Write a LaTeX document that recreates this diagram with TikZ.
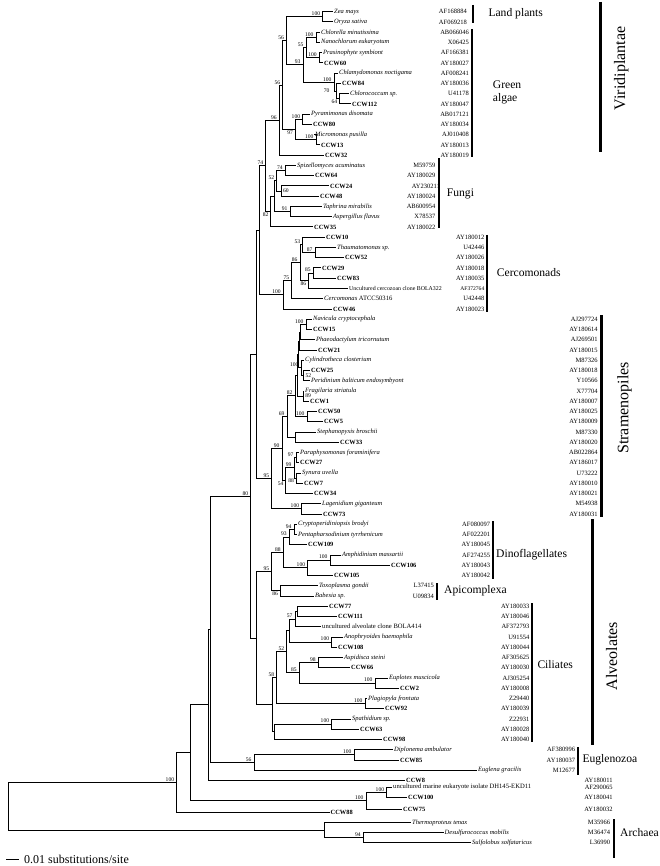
\documentclass[tikz,border=0pt]{standalone}
\usepackage{fontspec}
\setmainfont{Liberation Serif}

\tikzset{
  br/.style={line width=0.9pt},
  sp/.style={anchor=west, inner sep=1pt, font=\fontsize{6.5}{7}\selectfont\itshape},
  cw/.style={anchor=west, inner sep=1pt, font=\fontsize{6.4}{7}\selectfont\bfseries},
  un/.style={anchor=west, inner sep=1pt, font=\fontsize{6.6}{7}\selectfont},
  acc/.style={anchor=east, inner sep=0.5pt, font=\fontsize{6.5}{7}\selectfont},
  bs/.style={anchor=south east, inner sep=0.4pt, xshift=-2pt, yshift=0.5pt, font=\fontsize{5.6}{6}\selectfont},
  bsb/.style={anchor=north east, inner sep=0.4pt, xshift=-1.5pt, yshift=-0.5pt, font=\fontsize{5.6}{6}\selectfont},
  bsm/.style={anchor=east, inner sep=0.4pt, xshift=-6pt, font=\fontsize{5.6}{6}\selectfont},
  bsr/.style={anchor=west, inner sep=0.4pt, xshift=1.5pt, font=\fontsize{5.6}{6}\selectfont},
  grp/.style={anchor=west, inner sep=0pt, align=left, font=\fontsize{11.6}{13.3}\selectfont},
  big/.style={rotate=90, anchor=base, inner sep=0pt, font=\fontsize{16}{18}\selectfont},
  cbar/.style={line width=2.2pt},
  kbar/.style={line width=3.4pt},
}

\begin{document}
\begin{tikzpicture}[x=1pt,y=-1pt]
\useasboundingbox (0,0) rectangle (660,866);

% internal nodes
\coordinate (nzo) at (322.7,16.83);
\coordinate (nchn) at (316,37.33);
\coordinate (nprc) at (319.3,57.83);
\coordinate (n55) at (306,47.58);
\coordinate (nc64) at (339.3,98.83);
\coordinate (nc70) at (336,91.14);
\coordinate (nchl) at (334,82.17);
\coordinate (n93) at (303,64.87);
\coordinate (n56a) at (286.5,40.85);
\coordinate (npyr) at (302.7,119.33);
\coordinate (nmic) at (316,139.83);
\coordinate (n97) at (295,129.58);
\coordinate (n56b) at (282.7,85.21);
\coordinate (n96) at (279.3,120.2);
\coordinate (nspz) at (285.3,170.58);
\coordinate (n60) at (281,191.08);
\coordinate (n52f) at (276.7,180.83);
\coordinate (n91) at (290,211.58);
\coordinate (nf) at (274.3,196.2);
\coordinate (n82f) at (270.5,211.58);
\coordinate (n74) at (265.7,165.89);
\coordinate (n87) at (315,252.58);
\coordinate (n53) at (302.7,244.89);
\coordinate (n85c) at (313.3,273.08);
\coordinate (n86b) at (308.3,280.76);
\coordinate (n86a) at (300,262.83);
\coordinate (n75) at (291.7,280.77);
\coordinate (ncer) at (283.3,294.86);
\coordinate (nK) at (259.5,230.38);
\coordinate (nnav) at (306,324.33);
\coordinate (ns1) at (300.5,332.01);
\coordinate (ns2) at (299,340.98);
\coordinate (n52s) at (303.5,375.58);
\coordinate (ncyl) at (301,367.89);
\coordinate (ns3) at (298,354.44);
\coordinate (n89) at (303.3,396.08);
\coordinate (ns4) at (297,375.26);
\coordinate (n100b) at (307,416.58);
\coordinate (n82s) at (295,395.92);
\coordinate (n98) at (295,437.08);
\coordinate (n69) at (287,416.5);
\coordinate (n97s) at (296,457.58);
\coordinate (n88s) at (296,478.08);
\coordinate (n99) at (294,467.83);
\coordinate (n54) at (285.5,480.64);
\coordinate (n90) at (282,448.57);
\coordinate (nlag) at (301.7,508.83);
\coordinate (n95s) at (271.7,478.7);
\coordinate (nA) at (256.7,354.54);
\coordinate (n94) at (294,529.33);
\coordinate (n93d) at (289.3,537.01);
\coordinate (na100) at (330,560.08);
\coordinate (na100b) at (307.7,567.76);
\coordinate (n88d) at (283.3,552.39);
\coordinate (n86) at (280,590.83);
\coordinate (n95d) at (271.7,571.61);
\coordinate (nc77) at (297.5,611.33);
\coordinate (n57) at (295,619.01);
\coordinate (nano) at (331.7,642.08);
\coordinate (nx1) at (289,630.55);
\coordinate (n98c) at (318.3,662.58);
\coordinate (neup) at (375,683.08);
\coordinate (n85) at (299.3,672.83);
\coordinate (n52c) at (286.7,651.69);
\coordinate (npla) at (365,703.58);
\coordinate (n58) at (276.7,677.63);
\coordinate (nspa) at (331.7,724.08);
\coordinate (nsp2) at (274.3,731.76);
\coordinate (ncil) at (272,704.7);
\coordinate (nB) at (256.7,638.15);
\coordinate (n80) at (250.7,496.35);
\coordinate (ndip) at (354,754.83);
\coordinate (n56e) at (254,762.51);
\coordinate (nI) at (210.7,629.43);
\coordinate (nG) at (208.5,704.7);
\coordinate (n100m) at (386.7,792.5);
\coordinate (nH) at (366,800.75);
\coordinate (nF) at (190.4,752.7);
\coordinate (nE) at (176.7,782.7);
\coordinate (n94a) at (363.3,837.7);
\coordinate (narc) at (324,830.2);
\coordinate (nroot) at (8,806.45);

% leaves
\node[sp] (zea) at (333,11.7) {Zea mays};
\node[sp] (ory) at (333,21.95) {Oryza sativa};
\node[sp] (chl) at (320,32.2) {Chlorella minutissima};
\node[sp] (nan) at (320,42.45) {Nanochlorum eukaryotum};
\node[sp] (pra) at (322,52.7) {Prasinophyte symbiont};
\node[cw] (c60) at (323,62.95) {CCW60};
\node[sp] (chy) at (338,73.2) {Chlamydomonas noctigama};
\node[cw] (c84) at (341,83.45) {CCW84};
\node[sp] (clc) at (349,93.7) {Chlorococcum sp.};
\node[cw] (c112) at (351,103.95) {CCW112};
\node[sp] (pyr) at (310,114.2) {Pyramimonas disomata};
\node[cw] (c80) at (312,124.45) {CCW80};
\node[sp] (mic) at (314,134.7) {Micromonas pusilla};
\node[cw] (c13) at (320,144.95) {CCW13};
\node[cw] (c32) at (324,155.2) {CCW32};
\node[sp] (spi) at (296,165.45) {Spizellomyces acuminatus};
\node[cw] (c64) at (314,175.7) {CCW64};
\node[cw] (c24) at (329,185.95) {CCW24};
\node[cw] (c48) at (319,196.2) {CCW48};
\node[sp] (tap) at (322,206.45) {Taphrina mirabilis};
\node[sp] (asp) at (332,216.7) {Aspergillus flavus};
\node[cw] (c35) at (313,226.95) {CCW35};
\node[cw] (c10) at (325,237.2) {CCW10};
\node[sp] (tha) at (336,247.45) {Thaumatomonas sp.};
\node[cw] (c52) at (344,257.7) {CCW52};
\node[cw] (c29) at (321,267.95) {CCW29};
\node[cw] (c83) at (336,278.2) {CCW83};
\node[un, font=\fontsize{5.9}{7}\selectfont] (bola322) at (348,288.45) {Uncultured cercozoan clone BOLA322};
\node[un] (cer) at (323,298.7) {\textit{Cercomonas} ATCC50316};
\node[cw] (c46) at (332,308.95) {CCW46};
\node[sp] (nav) at (312,319.2) {Navicula cryptocephala};
\node[cw] (c15) at (312,329.45) {CCW15};
\node[sp] (pha) at (315,339.7) {Phaeodactylum tricornutum};
\node[cw] (c21) at (317,349.95) {CCW21};
\node[sp] (cyl) at (304,360.2) {Cylindrotheca closterium};
\node[cw] (c25) at (310,370.45) {CCW25};
\node[sp] (per) at (310,380.7) {Peridinium balticum endosymbyont};
\node[sp] (fra) at (304,390.95) {Fragilaria striatula};
\node[cw] (c1) at (309,401.2) {CCW1};
\node[cw] (c50) at (317,411.45) {CCW50};
\node[cw] (c5) at (323,421.7) {CCW5};
\node[sp] (ste) at (316,431.95) {Stephanopyxis broschii};
\node[cw] (c33) at (339,442.2) {CCW33};
\node[sp] (par) at (299,452.45) {Paraphysomonas foraminifera};
\node[cw] (c27) at (299,462.7) {CCW27};
\node[sp] (syn) at (301,472.95) {Synura uvella};
\node[cw] (c7) at (303,483.2) {CCW7};
\node[cw] (c34) at (313,493.45) {CCW34};
\node[sp] (lag) at (321,503.7) {Lagenidium giganteum};
\node[cw] (c73) at (322,513.95) {CCW73};
\node[sp] (cry) at (297,524.2) {Cryptoperidiniopsis brodyi};
\node[sp] (pen) at (297,534.45) {Pentapharsodinium tyrrhenicum};
\node[cw] (c109) at (307,544.7) {CCW109};
\node[sp] (amp) at (341,554.95) {Amphidinium massartii};
\node[cw] (c106) at (390,565.2) {CCW106};
\node[cw] (c105) at (333,575.45) {CCW105};
\node[sp] (tox) at (318,585.7) {Toxoplasma gondii};
\node[sp] (bab) at (314,595.95) {Babesia sp.};
\node[cw] (c77) at (328,606.2) {CCW77};
\node[cw] (c111) at (337,616.45) {CCW111};
\node[un] (bola414) at (321,626.7) {uncultured alveolate clone BOLA414};
\node[sp] (ano) at (343,636.95) {Anophryoides haemophila};
\node[cw] (c108) at (337,647.2) {CCW108};
\node[sp] (asi) at (343,657.45) {Aspidisca steini};
\node[cw] (c66) at (350,667.7) {CCW66};
\node[sp] (eup) at (388,677.95) {Euplotes muscicola};
\node[cw] (c2) at (399,688.2) {CCW2};
\node[sp] (pla) at (367,698.45) {Plagiopyla frontata};
\node[cw] (c92) at (384,708.7) {CCW92};
\node[sp] (spa) at (351,718.95) {Spathidium sp.};
\node[cw] (c63) at (359,729.2) {CCW63};
\node[cw] (c98) at (382,739.45) {CCW98};
\node[sp] (dip) at (393,749.7) {Diplonema ambulator};
\node[cw] (c85) at (399,759.95) {CCW85};
\node[sp] (eug) at (477,770.2) {Euglena gracilis};
\node[cw] (c8) at (405,780) {CCW8};
\node[un] (dh145) at (392,787.3) {uncultured marine eukaryote isolate DH145-EKD11};
\node[cw] (c100) at (407,797.7) {CCW100};
\node[cw] (c75) at (402,809) {CCW75};
\node[cw] (c88) at (329.5,812.7) {CCW88};
\node[sp] (the) at (411,822.7) {Thermoproteus tenax};
\node[sp] (des) at (443.5,832.7) {Desulfurococcus mobilis};
\node[sp] (sul) at (471,842.7) {Sulfolobus solfataricus};

% branches
\draw[br] (nzo) |- (zea.west) (nzo) |- (ory.west);
\draw[br] (nchn) |- (chl.west) (nchn) |- (nan.west);
\draw[br] (nprc) |- (pra.west) (nprc) |- (c60.west);
\draw[br] (n55) |- (nchn) (n55) |- (nprc);
\draw[br] (nc64) |- (clc.west) (nc64) |- (c112.west);
\draw[br] (nc70) |- (c84.west) (nc70) |- (nc64);
\draw[br] (nchl) |- (chy.west) (nchl) |- (nc70);
\draw[br] (n93) |- (n55) (n93) |- (nchl);
\draw[br] (n56a) |- (nzo) (n56a) |- (n93);
\draw[br] (npyr) |- (pyr.west) (npyr) |- (c80.west);
\draw[br] (nmic) |- (mic.west) (nmic) |- (c13.west);
\draw[br] (n97) |- (npyr) (n97) |- (nmic);
\draw[br] (n56b) |- (n56a) (n56b) |- (n97);
\draw[br] (n96) |- (n56b) (n96) |- (c32.west);
\draw[br] (nspz) |- (spi.west) (nspz) |- (c64.west);
\draw[br] (n60) |- (c24.west) (n60) |- (c48.west);
\draw[br] (n52f) |- (nspz) (n52f) |- (n60);
\draw[br] (n91) |- (tap.west) (n91) |- (asp.west);
\draw[br] (nf) |- (n52f) (nf) |- (n91);
\draw[br] (n82f) |- (nf) (n82f) |- (c35.west);
\draw[br] (n74) |- (n96) (n74) |- (n82f);
\draw[br] (n87) |- (tha.west) (n87) |- (c52.west);
\draw[br] (n53) |- (c10.west) (n53) |- (n87);
\draw[br] (n85c) |- (c29.west) (n85c) |- (c83.west);
\draw[br] (n86b) |- (n85c) (n86b) |- (bola322.west);
\draw[br] (n86a) |- (n53) (n86a) |- (n86b);
\draw[br] (n75) |- (n86a) (n75) |- (cer.west);
\draw[br] (ncer) |- (n75) (ncer) |- (c46.west);
\draw[br] (nK) |- (n74) (nK) |- (ncer);
\draw[br] (nnav) |- (nav.west) (nnav) |- (c15.west);
\draw[br] (ns1) |- (nnav) (ns1) |- (pha.west);
\draw[br] (ns2) |- (ns1) (ns2) |- (c21.west);
\draw[br] (n52s) |- (c25.west) (n52s) |- (per.west);
\draw[br] (ncyl) |- (cyl.west) (ncyl) |- (n52s);
\draw[br] (ns3) |- (ns2) (ns3) |- (ncyl);
\draw[br] (n89) |- (fra.west) (n89) |- (c1.west);
\draw[br] (ns4) |- (ns3) (ns4) |- (n89);
\draw[br] (n100b) |- (c50.west) (n100b) |- (c5.west);
\draw[br] (n82s) |- (ns4) (n82s) |- (n100b);
\draw[br] (n98) |- (ste.west) (n98) |- (c33.west);
\draw[br] (n69) |- (n82s) (n69) |- (n98);
\draw[br] (n97s) |- (par.west) (n97s) |- (c27.west);
\draw[br] (n88s) |- (syn.west) (n88s) |- (c7.west);
\draw[br] (n99) |- (n97s) (n99) |- (n88s);
\draw[br] (n54) |- (n99) (n54) |- (c34.west);
\draw[br] (n90) |- (n69) (n90) |- (n54);
\draw[br] (nlag) |- (lag.west) (nlag) |- (c73.west);
\draw[br] (n95s) |- (n90) (n95s) |- (nlag);
\draw[br] (nA) |- (nK) (nA) |- (n95s);
\draw[br] (n94) |- (cry.west) (n94) |- (pen.west);
\draw[br] (n93d) |- (n94) (n93d) |- (c109.west);
\draw[br] (na100) |- (amp.west) (na100) |- (c106.west);
\draw[br] (na100b) |- (na100) (na100b) |- (c105.west);
\draw[br] (n88d) |- (n93d) (n88d) |- (na100b);
\draw[br] (n86) |- (tox.west) (n86) |- (bab.west);
\draw[br] (n95d) |- (n88d) (n95d) |- (n86);
\draw[br] (nc77) |- (c77.west) (nc77) |- (c111.west);
\draw[br] (n57) |- (nc77) (n57) |- (bola414.west);
\draw[br] (nano) |- (ano.west) (nano) |- (c108.west);
\draw[br] (nx1) |- (n57) (nx1) |- (nano);
\draw[br] (n98c) |- (asi.west) (n98c) |- (c66.west);
\draw[br] (neup) |- (eup.west) (neup) |- (c2.west);
\draw[br] (n85) |- (n98c) (n85) |- (neup);
\draw[br] (n52c) |- (nx1) (n52c) |- (n85);
\draw[br] (npla) |- (pla.west) (npla) |- (c92.west);
\draw[br] (n58) |- (n52c) (n58) |- (npla);
\draw[br] (nspa) |- (spa.west) (nspa) |- (c63.west);
\draw[br] (nsp2) |- (nspa) (nsp2) |- (c98.west);
\draw[br] (ncil) |- (n58) (ncil) |- (nsp2);
\draw[br] (nB) |- (n95d) (nB) |- (ncil);
\draw[br] (n80) |- (nA) (n80) |- (nB);
\draw[br] (ndip) |- (dip.west) (ndip) |- (c85.west);
\draw[br] (n56e) |- (ndip) (n56e) |- (eug.west);
\draw[br] (nI) |- (n80) (nI) |- (n56e);
\draw[br] (nG) |- (nI) (nG) |- (c8.west);
\draw[br] (n100m) |- (dh145.west) (n100m) |- (c100.west);
\draw[br] (nH) |- (n100m) (nH) |- (c75.west);
\draw[br] (nF) |- (nG) (nF) |- (nH);
\draw[br] (nE) |- (nF) (nE) |- (c88.west);
\draw[br] (n94a) |- (des.west) (n94a) |- (sul.west);
\draw[br] (narc) |- (the.west) (narc) |- (n94a);
\draw[br] (nroot) |- (nE) (nroot) |- (narc);

% bootstrap values
\foreach \n/\v in {nzo/100,nchn/100,nprc/100,n55/55,nchl/100,n93/93,n56a/56,npyr/100,nmic/100,n56b/56,n96/96,nspz/74,n52f/52,n91/91,n74/74,n53/53,n87/87,n86a/86,n85c/85,n75/75,ncer/100,nnav/100,ncyl/100,n82s/82,n100b/100,n69/69,n97s/97,n99/99,n90/90,nlag/100,n95s/95,n80/80,n94/94,n93d/93,na100/100,na100b/100,n88d/88,n95d/95,n57/57,nano/100,n52c/52,n98c/98,neup/100,n85/85,npla/100,n58/58,nspa/100,ndip/100,n56e/56,n100m/100,nH/100,nE/100,n94a/94}
  \node[bs] (b-\n) at (\n) {\v};
\foreach \n/\v in {nc64/64,n97/97,n82f/82,n86b/86,n88s/88,n54/54,n86/86}
  \node[bsb] (b-\n) at (\n) {\v};
\foreach \n/\v in {n52s/52,n89/89,n60/60}
  \node[bsr] (b-\n) at (\n) {\v};
\node[bsm] (b-nc70) at (nc70) {70};

% accession numbers
\foreach \t/\y [count=\i] in {AF168884/11.7,AF069218/21.95}
  \node[acc] (lp\i) at (467.5,\y) {\t};
\foreach \t/\y [count=\i] in {AB066046/32.2,X06425/42.45,AF166381/52.7,AY180027/62.95,AF008241/73.2,AY180036/83.45,U41178/93.7,AY180047/103.95,AB017121/114.2,AY180034/124.45,AJ010408/134.7,AY180013/144.95,AY180019/155.2}
  \node[acc] (ga\i) at (469.5,\y) {\t};
\foreach \t/\y [count=\i] in {M59759/165.45,AY180029/175.7,AY180024/196.2,AB600954/206.45,X78537/216.7,AY180022/226.95}
  \node[acc] (fu\i) at (436,\y) {\t};
\node[acc] (fu0) at (440.5,185.95) {AY230211};
\foreach \t/\y [count=\i] in {AY180012/237.2,U42446/247.45,AY180026/257.7,AY180018/267.95,AY180035/278.2,U42448/298.7,AY180023/308.95}
  \node[acc] (ce\i) at (485,\y) {\t};
\node[acc, font=\fontsize{5.6}{6}\selectfont] (ce0) at (485,288.45) {AF372764};
\foreach \t/\y [count=\i] in {AJ297724/319.2,AY180614/329.45,AJ269501/339.7,AY180015/349.95,M87326/360.2,AY180018/370.45,Y10566/380.7,X77704/390.95,AY180007/401.2,AY180025/411.45,AY180009/421.7,M87330/431.95,AY180020/442.2,AB022864/452.45,AY186017/462.7,U73222/472.95,AY180010/483.2,AY180021/493.45,M54938/503.7,AY180031/513.95}
  \node[acc] (st\i) at (598.3,\y) {\t};
\foreach \t/\y [count=\i] in {AF080097/524.2,AF022201/534.45,AY180045/544.7,AF274255/554.95,AY180043/565.2,AY180042/575.45}
  \node[acc] (di\i) at (490.7,\y) {\t};
\foreach \t/\y [count=\i] in {L37415/585.7,U09834/595.95}
  \node[acc] (ap\i) at (434.5,\y) {\t};
\foreach \t/\y [count=\i] in {AY180033/606.2,AY180046/616.45,AF372793/626.7,U91554/636.95,AY180044/647.2,AF305625/657.45,AY180030/667.7,AJ305254/677.95,AY180008/688.2,Z29440/698.45,AY180039/708.7,Z22931/718.95,AY180028/729.2,AY180040/739.45}
  \node[acc] (ci\i) at (530,\y) {\t};
\foreach \t/\y [count=\i] in {AF380996/749.7,AY180037/759.95,M12677/770.2}
  \node[acc] (eu\i) at (575.7,\y) {\t};
\foreach \t/\y [count=\i] in {AY180011/780,AF290065/787.3,AY180041/797.7,AY180032/809}
  \node[acc] (ot\i) at (613.3,\y) {\t};
\foreach \t/\y [count=\i] in {M35966/822.7,M36474/832.7,L36990/842.7}
  \node[acc] (ar\i) at (610.7,\y) {\t};

% clade bars and names
\draw[cbar] (472.7,5) -- (472.7,23);
\draw[cbar] (471.7,29) -- (471.7,157);
\draw[cbar] (439,158.5) -- (439,228.5);
\draw[cbar] (487.3,235) -- (487.3,311.7);
\draw[cbar] (493.3,521) -- (493.3,579);
\draw[cbar] (436.7,583) -- (436.7,600);
\draw[cbar] (531.7,603) -- (531.7,742);
\draw[cbar] (577.7,747) -- (577.7,775);
\draw[cbar] (614,819) -- (614,858);
\draw[kbar] (600.7,2) -- (600.7,152);
\draw[kbar] (601.7,315) -- (601.7,517);
\draw[kbar] (592.3,519) -- (592.3,745);

\node[grp] (landpl) at (488.3,14) {Land plants};
\node[grp] (greenal) at (492.7,92.7) {Green\\algae};
\node[grp] (fungi) at (446.7,194.3) {Fungi};
\node[grp] (cercom) at (496.7,272.7) {Cercomonads};
\node[grp] (dinofl) at (496,554.3) {Dinoflagellates};
\node[grp] (apicom) at (444,591) {Apicomplexa};
\node[grp] (ciliat) at (537.3,664.3) {Ciliates};
\node[grp] (euglen) at (582.3,760) {Euglenozoa};
\node[grp] (archae) at (620,832.7) {Archaea};
\node[big] (viridi) at (625,68.5) {Viridiplantae};
\node[big] (strame) at (628.3,408) {Stramenopiles};
\node[big] (alveol) at (617,656) {Alveolates};

% scale bar
\coordinate (sb1) at (6.3,859);
\coordinate (sb2) at (19,859);
\draw[br] (sb1) -- (sb2);
\node[anchor=west, inner sep=0pt, font=\fontsize{12}{13}\selectfont] (sbtext) at (24,859) {0.01 substitutions/site};
\end{tikzpicture}
\end{document}
